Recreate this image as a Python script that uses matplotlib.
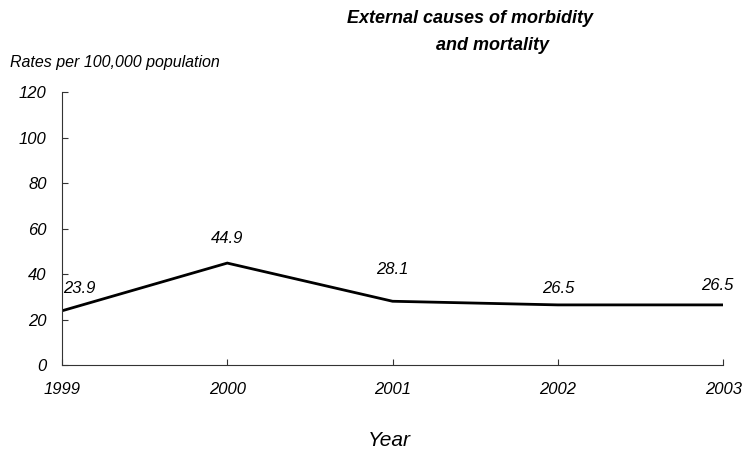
import matplotlib
matplotlib.use("Agg")
import matplotlib.pyplot as plt

plt.rcParams["font.family"] = ["Liberation Sans", "DejaVu Sans"]

# data
years = [1999, 2000, 2001, 2002, 2003]
rates = [23.9, 44.9, 28.1, 26.5, 26.5]
y_ticks = [0, 20, 40, 60, 80, 100, 120]

# label offsets (points) as in the original
label_offsets = [(1, 16), (0, 18), (0, 23), (0, 12), (-4, 14)]
label_align = ["left", "center", "center", "center", "center"]

fig = plt.figure(figsize=(7.53, 4.53), dpi=100)
ax = fig.add_axes([0.0823, 0.194, 0.878, 0.602])

ax.plot(years, rates, color="black", lw=2.0, solid_joinstyle="miter")

for x, y, off, ha in zip(years, rates, label_offsets, label_align):
    ax.annotate(f"{y:.1f}", (x, y), xytext=off, textcoords="offset points",
                ha=ha, va="center", fontsize=12, style="italic")

ax.set_xlim(years[0], years[-1])
ax.set_ylim(0, 120)
ax.set_xticks(years)
ax.set_yticks(y_ticks)
ax.tick_params(direction="in", length=4, width=0.8, labelsize=12, color="#333")
ax.tick_params(axis="x", pad=12.5)
ax.tick_params(axis="y", pad=11)
for lab in ax.get_xticklabels() + ax.get_yticklabels():
    lab.set_style("italic")

for s in ["top", "right"]:
    ax.spines[s].set_visible(False)
for s in ["left", "bottom"]:
    ax.spines[s].set_linewidth(0.8)
    ax.spines[s].set_color("#333")

fig.text(0.624, 0.96, "External causes of morbidity", ha="center",
         va="center", fontsize=13, fontweight="bold", style="italic")
fig.text(0.654, 0.90, "and mortality", ha="center",
         va="center", fontsize=13, fontweight="bold", style="italic")
fig.text(0.013, 0.861, "Rates per 100,000 population", ha="left", va="center",
         fontsize=11.5, style="italic")
fig.text(0.517, 0.027, "Year", ha="center", va="center", fontsize=15,
         style="italic")

fig.savefig("out.png", dpi=100)
